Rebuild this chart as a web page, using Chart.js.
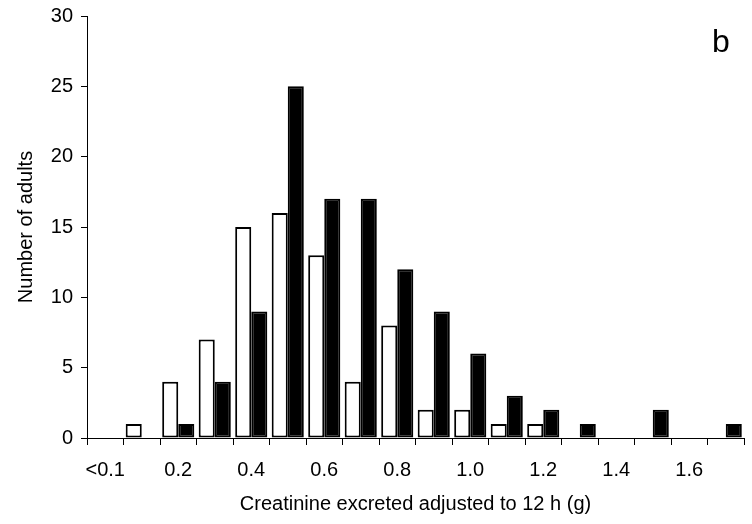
<!DOCTYPE html>
<html>
<head>
<meta charset="utf-8">
<script src="https://cdn.jsdelivr.net/npm/chart.js@4/dist/chart.umd.min.js"></script>
<style>
    html, body { margin: 0; padding: 0; background: #fff; }
    #wrap { width: 752px; height: 524px; }
</style>
</head>
<body>
<div id="wrap"><canvas id="creatChart" width="752" height="524"></canvas></div>
<script>
// Creatinine histogram, panel b

const categories = ['<0.1', '0.1', '0.2', '0.3', '0.4', '0.5', '0.6', '0.7', '0.8', '0.9',
    '1.0', '1.1', '1.2', '1.3', '1.4', '1.5', '1.6', '1.7'];
const tickLabels = ['<0.1', '', '0.2', '', '0.4', '', '0.6', '', '0.8', '',
    '1.0', '', '1.2', '', '1.4', '', '1.6', ''];
const openBars = [0, 1, 4, 7, 15, 16, 13, 4, 8, 2, 2, 1, 1, 0, 0, 0, 0, 0];
const filledBars = [0, 0, 1, 4, 9, 25, 17, 17, 12, 9, 6, 3, 2, 1, 0, 2, 0, 1];
const yTicks = [0, 5, 10, 15, 20, 25, 30];

const FONT = '"Liberation Sans", Arial, Helvetica, sans-serif';

// panel letter in the top right corner
const panelLetter = {
    id: 'panelLetter',
    afterDraw(chart) {
        const ctx = chart.ctx;
        ctx.save();
        ctx.font = '32px ' + FONT;
        ctx.fillStyle = '#000';
        ctx.textBaseline = 'alphabetic';
        ctx.fillText('b', 712, 52);
        ctx.restore();
    }
};

new Chart(document.getElementById('creatChart'), {
    type: 'bar',
    data: {
        labels: categories,
        datasets: [{
            label: 'open',
            data: openBars,
            backgroundColor: '#fff',
            borderColor: '#000',
            borderWidth: 2,
            borderSkipped: false,
            categoryPercentage: 0.88,
            barPercentage: 1
        }, {
            label: 'filled',
            data: filledBars,
            backgroundColor: '#000',
            borderColor: '#000',
            borderWidth: 2,
            borderSkipped: false,
            categoryPercentage: 0.88,
            barPercentage: 1
        }]
    },
    options: {
        responsive: false,
        animation: false,
        layout: { padding: { top: 16, right: 8, left: 0, bottom: 0 } },
        plugins: {
            legend: { display: false },
            tooltip: { enabled: false }
        },
        scales: {
            x: {
                grid: {
                    offset: true,
                    drawOnChartArea: false,
                    drawTicks: true,
                    tickLength: 7,
                    color: '#000',
                    lineWidth: 1
                },
                border: { display: true, color: '#000', width: 1 },
                ticks: {
                    autoSkip: false,
                    maxRotation: 0,
                    padding: 13,
                    color: '#000',
                    font: { family: FONT, size: 20 },
                    callback: (val, i) => tickLabels[i]
                },
                title: {
                    display: true,
                    text: 'Creatinine excreted adjusted to 12 h (g)',
                    color: '#000',
                    font: { family: FONT, size: 20 },
                    padding: { top: 0, bottom: 8 }
                },
                afterFit: (scale) => {
                    scale.height = 86;
                    scale.paddingLeft = 0;
                    scale.paddingRight = 0;
                }
            },
            y: {
                min: 0,
                max: 30,
                afterBuildTicks: (scale) => { scale.ticks = yTicks.map(v => ({ value: v })); },
                grid: {
                    drawOnChartArea: false,
                    drawTicks: true,
                    tickLength: 6,
                    color: '#000',
                    lineWidth: 1
                },
                border: { display: true, color: '#000', width: 1 },
                ticks: {
                    padding: 8,
                    color: '#000',
                    font: { family: FONT, size: 20 }
                },
                title: {
                    display: true,
                    text: 'Number of adults',
                    color: '#000',
                    font: { family: FONT, size: 20 },
                    padding: { top: 14, bottom: 0 }
                },
                afterFit: (scale) => {
                    scale.width = 87;
                    scale.paddingTop = 0;
                    scale.paddingBottom = 0;
                }
            }
        }
    },
    plugins: [panelLetter]
});
</script>
</body>
</html>
